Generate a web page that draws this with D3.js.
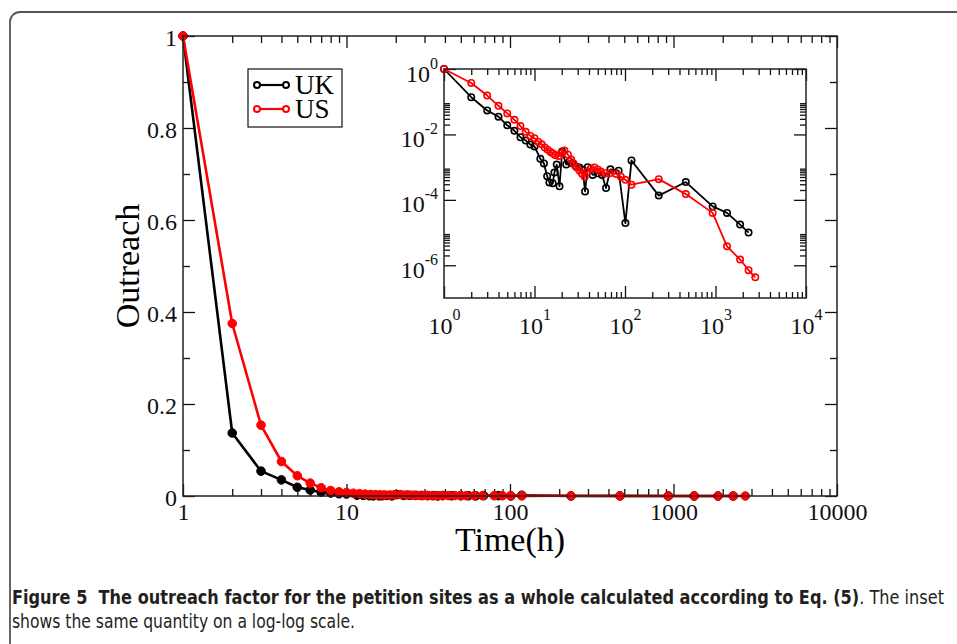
<!DOCTYPE html>
<html>
<head>
<meta charset="utf-8">
<script src="https://cdn.jsdelivr.net/npm/d3@7"></script>
<style>
  body { margin: 0; background: #fff; }
  svg { display: block; }
  .caption { white-space: pre; }
</style>
</head>
<body>
<svg id="chart"></svg>
<script>
// values (time in hours, outreach factor)
const seriesNames = ['UK', 'US']
const seriesColors = ['#000000', '#ff0000']

const ukTime = [1, 2, 3, 4, 5, 6, 7, 8, 9, 10,
    11.6, 12.7, 13.8, 14.6, 15.9, 16.6, 17.6, 18.9, 20.2, 22.4,
    24.3, 26.4, 28.7, 31.3, 34.1, 36.2, 38.7, 43.9, 50, 55.7,
    61.7, 69, 85, 101, 118, 236, 470, 930, 1340, 1870, 2320]
const ukOutreach = [1, 0.137, 0.054, 0.035, 0.019, 0.0129, 0.0082, 0.0065, 0.0049, 0.0043,
    0.0018, 0.0013, 5.3e-4, 3.4e-4, 3.2e-4, 6.8e-4, 1.2e-3, 2.6e-4, 3.0e-3, 1.2e-3,
    1.5e-3, 1.3e-3, 1.05e-3, 9.7e-4, 8.3e-4, 1.8e-4, 1.0e-3, 5.8e-4, 6.5e-4, 5.8e-4,
    2.3e-4, 8.6e-4, 7.8e-4, 1.95e-5, 1.6e-3, 1.35e-4, 3.5e-4, 6.3e-5, 4.0e-5, 1.75e-5, 1.0e-5]

const usTime = [1, 2, 3, 4, 5, 6, 7, 8, 9, 10,
    11, 12, 13, 14, 15, 16, 17, 18.5, 19.7, 21.4,
    23.4, 25.4, 27, 29.2, 31.3, 33.5, 35.9, 38.7, 42, 46,
    50, 54, 60.5, 68, 80, 90, 101, 118, 236, 470,
    930, 1340, 1870, 2320, 2750]
const usOutreach = [1, 0.375, 0.154, 0.075, 0.044, 0.028, 0.018, 0.012, 0.009, 0.0077,
    0.006, 0.005, 0.004, 0.0034, 0.0029, 0.0026, 0.0023, 0.0022, 0.0027, 0.0032,
    0.0024, 0.0017, 0.0013, 0.001, 7.9e-4, 6.3e-4, 5.1e-4, 7.3e-4, 9.1e-4, 9.8e-4,
    8.5e-4, 7.3e-4, 6.5e-4, 6.5e-4, 6.2e-4, 5.1e-4, 4.1e-4, 2.9e-4, 4.3e-4, 1.5e-4,
    4.0e-5, 3.8e-6, 1.5e-6, 7.1e-7, 4.3e-7]

const mainXTicks = [1, 10, 100, 1000, 10000]
const mainYTicks = [0, 0.2, 0.4, 0.6, 0.8, 1]
const insetXTicks = [1, 10, 100, 1000, 10000]
const insetYTicks = [1, 1e-2, 1e-4, 1e-6]

const xTitle = 'Time(h)'
const yTitle = 'Outreach'
const captionBold = 'Figure 5  The outreach factor for the petition sites as a whole calculated according to Eq. (5)'
const captionRest = '. The inset'
const captionLine2 = 'shows the same quantity on a log-log scale.'

const serifFont = "'Liberation Serif', 'Times New Roman', serif"
const captionFont = "'Liberation Sans Narrow', 'DejaVu Sans Condensed', 'Open Sans', sans-serif"

const series = seriesNames.map((name, i) => {
    let times = i === 0 ? ukTime : usTime
    let vals = i === 0 ? ukOutreach : usOutreach
    return { name: name, color: seriesColors[i], values: times.map((t, j) => ({ t: t, v: vals[j] })) }
})

const isMajor = (t, majors) => majors.some(m => Math.abs(m - t) <= 1e-9 * Math.max(Math.abs(m), 1e-12))

class OutreachPlot {

    constructor(_config, _data) {
        this.config = {
            parentElement: _config.parentElement,
            left: _config.left,
            top: _config.top,
            width: _config.width,
            height: _config.height,
            xDomain: _config.xDomain,
            yDomain: _config.yDomain,
            logY: _config.logY || false,
            xMajor: _config.xMajor,
            yMajor: _config.yMajor,
            majorTick: _config.majorTick || 12,
            minorTick: _config.minorTick || 7,
            xPadding: _config.xPadding || 7,
            yPadding: _config.yPadding || 6,
            yLabelDy: _config.yLabelDy || '0.4em',
            lineWidth: _config.lineWidth || 2.5,
            markerRadius: _config.markerRadius || 4,
            filled: _config.filled,
            powers: _config.powers || false
        }
        this.data = _data
        this.initVis()
    }

    initVis() {
        let vis = this
        let c = vis.config

        vis.chart = d3.select(c.parentElement).append('g')
            .attr('transform', `translate(${c.left}, ${c.top})`)

        vis.chart.append('rect')
            .attr('width', c.width)
            .attr('height', c.height)
            .attr('fill', '#fff')

        vis.xScale = d3.scaleLog().domain(c.xDomain).range([0, c.width])
        vis.yScale = (c.logY ? d3.scaleLog() : d3.scaleLinear()).domain(c.yDomain).range([c.height, 0])

        let xMinor = vis.xScale.ticks().filter(t => !isMajor(t, c.xMajor))
        let yMinor
        if (c.logY) {
            // minor ticks only in the decade just above each labelled power
            yMinor = vis.yScale.ticks().filter(t => {
                let e = Math.floor(Math.log10(t) + 1e-9)
                return e % 2 === 0 && !isMajor(t, c.yMajor)
            })
        } else {
            yMinor = vis.yScale.ticks(10).filter(t => !isMajor(t, c.yMajor))
        }

        let fmtX = d3.format('d')
        let fmtY = d3.format('~g')

        vis.addAxis(d3.axisBottom(vis.xScale).tickValues(xMinor).tickSize(-c.minorTick).tickFormat(''), 0, c.height)
        vis.addAxis(d3.axisTop(vis.xScale).tickValues(xMinor).tickSize(-c.minorTick).tickFormat(''), 0, 0)
        vis.addAxis(d3.axisLeft(vis.yScale).tickValues(yMinor).tickSize(-c.minorTick).tickFormat(''), 0, 0)
        vis.addAxis(d3.axisRight(vis.yScale).tickValues(yMinor).tickSize(-c.minorTick).tickFormat(''), c.width, 0)

        vis.xAxisGroup = vis.addAxis(d3.axisBottom(vis.xScale).tickValues(c.xMajor).tickSize(-c.majorTick)
            .tickPadding(c.xPadding).tickFormat(fmtX), 0, c.height)
        vis.addAxis(d3.axisTop(vis.xScale).tickValues(c.xMajor).tickSize(-c.majorTick).tickFormat(''), 0, 0)
        vis.yAxisGroup = vis.addAxis(d3.axisLeft(vis.yScale).tickValues(c.yMajor).tickSize(-c.majorTick)
            .tickPadding(c.yPadding).tickFormat(fmtY), 0, 0)
        vis.addAxis(d3.axisRight(vis.yScale).tickValues(c.yMajor).tickSize(-c.majorTick).tickFormat(''), c.width, 0)

        vis.yAxisGroup.selectAll('.tick text').attr('dy', c.yLabelDy)

        if (c.powers) {
            vis.labelPowers(vis.xAxisGroup, -14)
            vis.labelPowers(vis.yAxisGroup, -13)
        }

        vis.renderVis()
    }

    addAxis(axis, tx, ty) {
        let vis = this
        let g = vis.chart.append('g')
            .attr('transform', `translate(${tx}, ${ty})`)
            .call(axis)
        g.select('.domain').remove()
        g.attr('font-family', serifFont)
            .attr('font-size', 24)
            .attr('color', '#111')
        g.selectAll('line').attr('stroke-width', 1.3)
        return g
    }

    labelPowers(g, supDy) {
        g.selectAll('.tick text').each(function(d) {
            let exp = Math.round(Math.log10(d))
            let t = d3.select(this).text(null)
            t.append('tspan').text('10')
            t.append('tspan').attr('dy', supDy).attr('font-size', 16).text(exp)
        })
    }

    renderVis() {
        let vis = this
        let c = vis.config

        let line = d3.line()
            .x(d => vis.xScale(d.t))
            .y(d => vis.yScale(d.v))

        let groups = vis.chart.selectAll('.series')
            .data(vis.data)
            .join('g')
                .attr('class', 'series')

        groups.append('path')
            .attr('d', d => line(d.values))
            .attr('fill', 'none')
            .attr('stroke', d => d.color)
            .attr('stroke-width', c.lineWidth)
            .attr('stroke-linejoin', 'round')

        groups.each(function(s) {
            d3.select(this).selectAll('circle')
                .data(s.values)
                .join('circle')
                    .attr('cx', d => vis.xScale(d.t))
                    .attr('cy', d => vis.yScale(d.v))
                    .attr('r', c.markerRadius)
                    .attr('fill', c.filled ? s.color : 'none')
                    .attr('stroke', s.color)
                    .attr('stroke-width', c.filled ? 1 : 1.6)
        })

        vis.chart.append('rect')
            .attr('width', c.width)
            .attr('height', c.height)
            .attr('fill', 'none')
            .attr('stroke', '#222')
            .attr('stroke-width', 1.5)
    }
}

const svg = d3.select('#chart')
    .attr('width', 957)
    .attr('height', 644)

// page frame with rounded corner
svg.append('path')
    .attr('d', 'M10,644 V22 A10,10 0 0 1 20,12 H957')
    .attr('fill', 'none')
    .attr('stroke', '#555')
    .attr('stroke-width', 1.8)

const mainPlot = new OutreachPlot({
    parentElement: '#chart',
    left: 183, top: 36, width: 654, height: 460,
    xDomain: [1, 10000], yDomain: [0, 1],
    xMajor: mainXTicks, yMajor: mainYTicks,
    majorTick: 12, minorTick: 7,
    xPadding: 7, yPadding: 6, yLabelDy: '0.4em',
    lineWidth: 2.6, markerRadius: 4.3, filled: true
}, series)

mainPlot.chart.append('text')
    .attr('x', 654 / 2)
    .attr('y', 515)
    .attr('text-anchor', 'middle')
    .attr('font-family', serifFont)
    .attr('font-size', 34)
    .text(xTitle)

mainPlot.chart.append('text')
    .attr('transform', `translate(${139 - 183}, 230) rotate(-90)`)
    .attr('text-anchor', 'middle')
    .attr('font-family', serifFont)
    .attr('font-size', 34)
    .text(yTitle)

// legend
const legend = svg.append('g').attr('transform', 'translate(248, 69)')
legend.append('rect')
    .attr('width', 94).attr('height', 58)
    .attr('fill', '#fff').attr('stroke', '#111').attr('stroke-width', 1.2)
const legendItems = legend.selectAll('.legend-item')
    .data(series)
    .join('g')
        .attr('class', 'legend-item')
        .attr('transform', (d, i) => `translate(0, ${16 + i * 24})`)
legendItems.append('line')
    .attr('x1', 9).attr('x2', 38)
    .attr('stroke', d => d.color).attr('stroke-width', 2.2)
legendItems.selectAll('circle')
    .data(d => [{ x: 9, color: d.color }, { x: 38, color: d.color }])
    .join('circle')
        .attr('cx', d => d.x).attr('r', 3)
        .attr('fill', '#fff').attr('stroke', d => d.color).attr('stroke-width', 2)
legendItems.append('text')
    .attr('x', 47).attr('y', 9)
    .attr('font-family', serifFont)
    .attr('font-size', 27)
    .text(d => d.name)

const insetPlot = new OutreachPlot({
    parentElement: '#chart',
    left: 444, top: 69, width: 362, height: 229,
    xDomain: [1, 10000], yDomain: [1e-7, 1], logY: true,
    xMajor: insetXTicks, yMajor: insetYTicks,
    majorTick: 12, minorTick: 6,
    xPadding: 19, yPadding: 6, yLabelDy: '0.5em',
    lineWidth: 1.8, markerRadius: 3.2, filled: false, powers: true
}, series)

// caption
const cap1 = svg.append('text')
    .attr('class', 'caption')
    .attr('x', 12).attr('y', 604)
    .attr('font-family', captionFont)
    .attr('font-size', 19)
    .attr('fill', '#231f20')
    .attr('textLength', 932)
    .attr('lengthAdjust', 'spacingAndGlyphs')
cap1.append('tspan').attr('font-weight', 'bold').text(captionBold)
cap1.append('tspan').text(captionRest)

svg.append('text')
    .attr('class', 'caption')
    .attr('x', 12).attr('y', 628)
    .attr('font-family', captionFont)
    .attr('font-size', 19)
    .attr('fill', '#231f20')
    .attr('textLength', 343)
    .attr('lengthAdjust', 'spacingAndGlyphs')
    .text(captionLine2)
</script>
</body>
</html>
